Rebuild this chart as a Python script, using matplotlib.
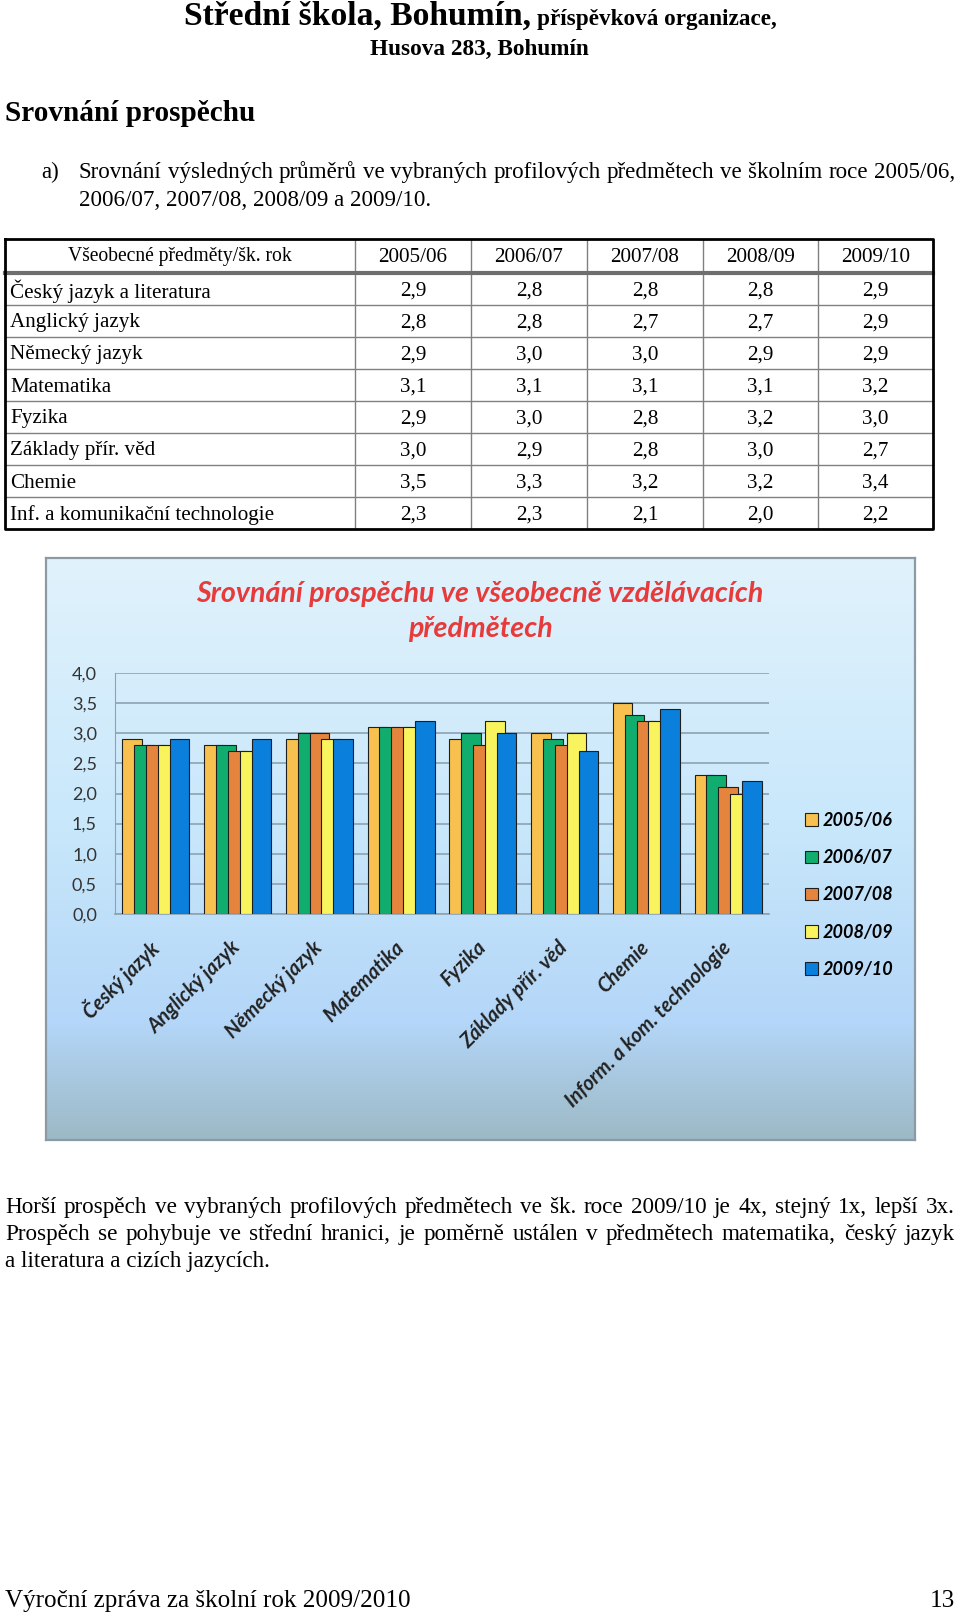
import numpy as np
import matplotlib
matplotlib.use('Agg')
import matplotlib.pyplot as plt
from matplotlib.patches import Patch
from matplotlib.colors import LinearSegmentedColormap

# data (from the table / chart)
table_rows = ['Český jazyk a literatura', 'Anglický jazyk', 'Německý jazyk', 'Matematika',
              'Fyzika', 'Základy přír. věd', 'Chemie', 'Inf. a komunikační technologie']
chart_labels = ['Český jazyk', 'Anglický jazyk', 'Německý jazyk', 'Matematika',
                'Fyzika', 'Základy přír. věd', 'Chemie', 'Inform. a kom. technologie']
years = ['2005/06', '2006/07', '2007/08', '2008/09', '2009/10']
y0506 = [2.9, 2.8, 2.9, 3.1, 2.9, 3.0, 3.5, 2.3]
y0607 = [2.8, 2.8, 3.0, 3.1, 3.0, 2.9, 3.3, 2.3]
y0708 = [2.8, 2.7, 3.0, 3.1, 2.8, 2.8, 3.2, 2.1]
y0809 = [2.8, 2.7, 2.9, 3.1, 3.2, 3.0, 3.2, 2.0]
y0910 = [2.9, 2.9, 2.9, 3.2, 3.0, 2.7, 3.4, 2.2]
series = [y0506, y0607, y0708, y0809, y0910]
colors = ['#f8c14f', '#11ad6f', '#e5843d', '#f9f35e', '#0b7fdc']
yticks = [0, 0.5, 1.0, 1.5, 2.0, 2.5, 3.0, 3.5, 4.0]

W, H = 960, 1613
SERIF = 'Liberation Serif'
SANS = 'Lato'

fig = plt.figure(figsize=(W / 100, H / 100), dpi=100)
fig.patch.set_facecolor('white')
r = fig.canvas.get_renderer()

# page axes in pixel coordinates (origin top-left)
bg = fig.add_axes([0, 0, 1, 1])
bg.set_xlim(0, W)
bg.set_ylim(H, 0)
bg.axis('off')


def fit(x, y, s, width, on=None, **kw):
    '''put text and scale its font so it is width pixels wide'''
    on = on or bg
    t = on.text(x, y, s, fontsize=20, transform=bg.transData, **kw)
    w = t.get_window_extent(renderer=r).width
    t.set_fontsize(20 * width / w)
    return t.get_fontsize()


def justify(x0, x1, y, line, size, **kw):
    words = line.split()
    texts = [bg.text(0, y, w, fontsize=size, va='baseline', **kw) for w in words]
    widths = [t.get_window_extent(renderer=r).width for t in texts]
    gap = (x1 - x0 - sum(widths)) / (len(words) - 1)
    x = x0
    for t, w in zip(texts, widths):
        t.set_x(x)
        x += w + gap


# header
fit(184, 25, 'Střední škola, Bohumín,', 347, family=SERIF, weight='bold', va='baseline')
fit(537, 25, 'příspěvková organizace,', 239, family=SERIF, weight='bold', va='baseline')
fit(370, 55, 'Husova 283, Bohumín', 219, family=SERIF, weight='bold', va='baseline')
fit(5, 121, 'Srovnání prospěchu', 250, family=SERIF, weight='bold', va='baseline')

# point a)
bsize = fit(79, 206, '2006/07, 2007/08, 2008/09 a 2009/10.', 351, family=SERIF, va='baseline')
bg.text(41, 178, 'a)', fontsize=bsize, family=SERIF, va='baseline')
justify(79, 955, 178, 'Srovnání výsledných průměrů ve vybraných profilových předmětech '
        've školním roce 2005/06,', bsize, family=SERIF)

# table
tx = [5, 355, 471, 587, 703, 818, 933]
ty0, th, rh = 239, 273, 32
ty1 = th + rh * len(table_rows)
tsize = fit(10, th + rh * 7.5 + 2, table_rows[-1], 264, family=SERIF, va='center')
for x in tx[1:-1]:
    bg.plot([x, x], [ty0, ty1], color='#808080', lw=1)
for i in range(1, len(table_rows)):
    bg.plot([tx[0], tx[-1]], [th + rh * i] * 2, color='#808080', lw=1)
bg.plot([tx[0], tx[-1]], [th, th], color='#6e6e6e', lw=3)
bg.plot([tx[0], tx[-1], tx[-1], tx[0], tx[0]], [ty0, ty0, ty1, ty1, ty0], color='black', lw=2)
bg.text((tx[0] + tx[1]) / 2, 257, 'Všeobecné předměty/šk. rok', fontsize=tsize * 0.93,
        family=SERIF, ha='center', va='center')
for j, yr in enumerate(years):
    bg.text((tx[j + 1] + tx[j + 2]) / 2, 258, yr, fontsize=tsize, family=SERIF,
            ha='center', va='center')
for i, name in enumerate(table_rows):
    cy = th + rh * (i + 0.5) + 2
    if i < len(table_rows) - 1:
        bg.text(10, cy, name, fontsize=tsize, family=SERIF, va='center')
    for j, s in enumerate(series):
        bg.text((tx[j + 1] + tx[j + 2]) / 2, cy, f'{s[i]:.1f}'.replace('.', ','),
                fontsize=tsize, family=SERIF, ha='center', va='center')

# chart box with gradient
bx0, bx1, by0, by1 = 46, 915, 558, 1140
box = fig.add_axes([bx0 / W, 1 - by1 / H, (bx1 - bx0) / W, (by1 - by0) / H])
grad = LinearSegmentedColormap.from_list('g', [(0, '#e1f2fc'), (0.45, '#c9e8fb'),
                                               (0.8, '#b4d6f8'), (1, '#9cb9c5')])
box.imshow(np.linspace(0, 1, 256).reshape(-1, 1), cmap=grad, aspect='auto',
           extent=[0, 1, 0, 1], origin='upper')
box.set_xticks([])
box.set_yticks([])
for sp in box.spines.values():
    sp.set_color('#8c9aa6')
    sp.set_linewidth(1.6)

tsz = fit(480, 594, 'Srovnání prospěchu ve všeobecně vzdělávacích', 567, on=box, family=SANS,
          weight='bold', style='italic', color='#e63b3a', ha='center', va='center')
box.text(480, 629, 'předmětech', fontsize=tsz, family=SANS, weight='bold', style='italic',
         color='#e63b3a', ha='center', va='center', transform=bg.transData)

# bars
px0, px1, py0, py1 = 115, 769, 673, 914
ax = fig.add_axes([px0 / W, 1 - py1 / H, (px1 - px0) / W, (py1 - py0) / H])
ax.patch.set_alpha(0)
x = np.arange(len(chart_labels))
bw, step = 0.24, 0.145
for k, (s, c) in enumerate(zip(series, colors)):
    ax.bar(x + (k - 2) * step, s, width=bw, color=c, edgecolor='#1e1e1e', lw=0.8,
           zorder=3 + k)
ax.set_xlim(-0.5, len(chart_labels) - 0.5)
ax.set_ylim(0, 4)
ax.set_yticks(yticks)
ax.set_yticklabels([f'{v:.1f}'.replace('.', ',') for v in yticks], family=SANS,
                   fontsize=13, color='#333333')
ax.tick_params(axis='y', length=0, pad=13)
ax.grid(axis='y', color='#8da2b2', lw=1.2, zorder=1)
ax.set_xticks(x)
ax.set_xticklabels(chart_labels, rotation=45, ha='right', va='center', rotation_mode='anchor',
                   family=SANS, fontsize=14.5, weight='bold', style='italic', color='#222222')
ax.tick_params(axis='x', length=0, pad=22)
for side in ['top', 'right']:
    ax.spines[side].set_visible(False)
ax.spines['left'].set_color('#8da2b2')
ax.spines['bottom'].set_color('#8da2b2')
ax.spines['bottom'].set_linewidth(1.2)

handles = [Patch(facecolor=c, edgecolor='#1e1e1e', lw=0.8) for c in colors]
fig.legend(handles, years, loc='upper left', bbox_to_anchor=(805 / W, 1 - 812 / H),
           frameon=False, borderpad=0, borderaxespad=0, handlelength=0.7, handleheight=0.7,
           handletextpad=0.25, labelspacing=1.12,
           prop={'family': SANS, 'size': 13, 'weight': 'bold', 'style': 'italic'})

# closing paragraph
psize = fit(5, 1267, 'a literatura a cizích jazycích.', 265, family=SERIF, va='baseline')
justify(5, 955, 1213, 'Horší prospěch ve vybraných profilových předmětech ve šk. roce 2009/10 '
        'je 4x, stejný 1x, lepší 3x.', psize, family=SERIF)
justify(5, 955, 1240, 'Prospěch se pohybuje ve střední hranici, je poměrně ustálen v předmětech '
        'matematika, český jazyk', psize, family=SERIF)

# footer
fsize = fit(5, 1607, 'Výroční zpráva za školní rok 2009/2010', 405, family=SERIF, va='baseline')
bg.text(955, 1607, '13', fontsize=fsize, family=SERIF, ha='right', va='baseline')

fig.savefig('out.png', dpi=100, facecolor='white')
